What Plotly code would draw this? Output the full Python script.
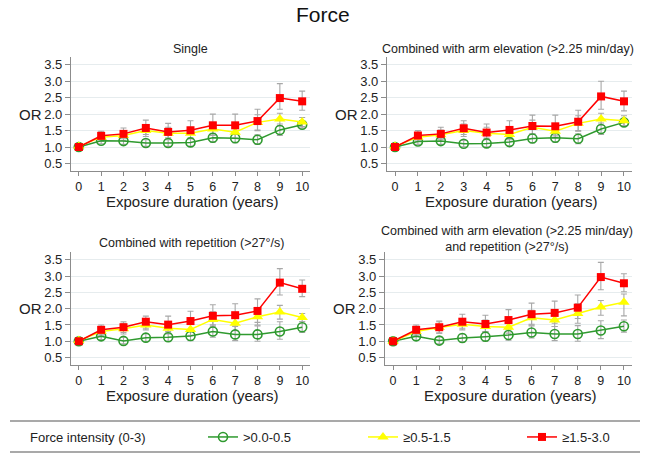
import plotly.graph_objects as go

years = list(range(11))
x_ticks = [str(v) for v in years]
y_ticks = [0.5, 1.0, 1.5, 2.0, 2.5, 3.0, 3.5]
y_tick_labels = ["0.5", "1.0", "1.5", "2.0", "2.5", "3.0", "3.5"]

panel_titles = [
    "Single",
    "Combined with arm elevation (>2.25 min/day)",
    "Combined with repetition (>27°/s)",
    "Combined with arm elevation (>2.25 min/day)<br>and repetition (>27°/s)",
]
series_names = [">0.0-0.5", "≥0.5-1.5", "≥1.5-3.0"]
legend_title = "Force intensity (0-3)"

# Panel 1: Single
p1_low = [1.00, 1.19, 1.18, 1.12, 1.12, 1.14, 1.28, 1.27, 1.22, 1.52, 1.68]
p1_low_lo = [1.00, 1.10, 1.08, 1.02, 1.02, 1.03, 1.15, 1.13, 1.08, 1.35, 1.58]
p1_low_hi = [1.00, 1.29, 1.28, 1.22, 1.22, 1.25, 1.42, 1.41, 1.37, 1.70, 1.78]
p1_mid = [1.02, 1.30, 1.35, 1.50, 1.42, 1.42, 1.55, 1.45, 1.75, 1.85, 1.76]
p1_mid_lo = [1.02, 1.18, 1.20, 1.32, 1.25, 1.25, 1.35, 1.27, 1.52, 1.65, 1.62]
p1_mid_hi = [1.02, 1.42, 1.50, 1.68, 1.60, 1.60, 1.75, 1.65, 1.98, 2.03, 1.90]
p1_high = [1.00, 1.34, 1.40, 1.58, 1.46, 1.51, 1.66, 1.66, 1.79, 2.49, 2.39]
p1_high_lo = [1.00, 1.22, 1.25, 1.38, 1.28, 1.28, 1.40, 1.40, 1.50, 2.15, 2.12]
p1_high_hi = [1.00, 1.48, 1.58, 1.82, 1.72, 1.80, 2.00, 2.00, 2.15, 2.93, 2.70]

# Panel 2: Combined with arm elevation
p2_low = [1.00, 1.17, 1.18, 1.10, 1.11, 1.15, 1.26, 1.28, 1.25, 1.55, 1.75]
p2_low_lo = [1.00, 1.08, 1.08, 1.01, 1.01, 1.04, 1.13, 1.15, 1.10, 1.38, 1.65]
p2_low_hi = [1.00, 1.27, 1.29, 1.20, 1.22, 1.27, 1.40, 1.42, 1.40, 1.73, 1.85]
p2_mid = [1.02, 1.30, 1.37, 1.50, 1.42, 1.38, 1.60, 1.48, 1.72, 1.85, 1.80]
p2_mid_lo = [1.02, 1.18, 1.22, 1.32, 1.25, 1.22, 1.40, 1.30, 1.50, 1.67, 1.65]
p2_mid_hi = [1.02, 1.43, 1.52, 1.70, 1.60, 1.57, 1.82, 1.68, 1.95, 2.03, 1.95]
p2_high = [1.00, 1.35, 1.40, 1.57, 1.44, 1.52, 1.64, 1.63, 1.77, 2.54, 2.39]
p2_high_lo = [1.00, 1.22, 1.25, 1.38, 1.27, 1.28, 1.38, 1.36, 1.48, 2.15, 2.10]
p2_high_hi = [1.00, 1.50, 1.60, 1.80, 1.70, 1.80, 1.97, 1.97, 2.12, 3.00, 2.70]

# Panel 3: Combined with repetition
p3_low = [1.00, 1.15, 1.01, 1.11, 1.12, 1.16, 1.30, 1.21, 1.21, 1.30, 1.43]
p3_low_lo = [1.00, 1.05, 0.92, 1.00, 1.00, 1.02, 1.12, 1.02, 1.00, 1.06, 1.27]
p3_low_hi = [1.00, 1.27, 1.12, 1.23, 1.26, 1.32, 1.50, 1.45, 1.47, 1.60, 1.60]
p3_mid = [1.02, 1.30, 1.38, 1.50, 1.40, 1.36, 1.67, 1.55, 1.75, 1.90, 1.73]
p3_mid_lo = [1.02, 1.17, 1.22, 1.35, 1.22, 1.18, 1.45, 1.32, 1.50, 1.68, 1.60]
p3_mid_hi = [1.02, 1.45, 1.55, 1.67, 1.60, 1.55, 1.90, 1.80, 2.00, 2.10, 1.85]
p3_high = [1.00, 1.35, 1.43, 1.60, 1.51, 1.62, 1.78, 1.80, 1.93, 2.80, 2.61]
p3_high_lo = [1.00, 1.20, 1.27, 1.40, 1.30, 1.35, 1.50, 1.50, 1.58, 2.42, 2.37]
p3_high_hi = [1.00, 1.50, 1.60, 1.77, 1.77, 1.92, 2.12, 2.15, 2.30, 3.23, 2.88]

# Panel 4: Combined with arm elevation and repetition
p4_low = [1.00, 1.15, 1.02, 1.10, 1.14, 1.19, 1.27, 1.22, 1.22, 1.33, 1.46]
p4_low_lo = [1.00, 1.03, 0.92, 0.98, 1.00, 1.03, 1.10, 1.02, 1.00, 1.08, 1.28]
p4_low_hi = [1.00, 1.27, 1.13, 1.22, 1.28, 1.35, 1.47, 1.45, 1.48, 1.63, 1.65]
p4_mid = [1.00, 1.30, 1.42, 1.52, 1.45, 1.43, 1.72, 1.65, 1.85, 2.05, 2.20]
p4_mid_lo = [1.00, 1.17, 1.25, 1.35, 1.28, 1.25, 1.50, 1.45, 1.55, 1.80, 1.78]
p4_mid_hi = [1.00, 1.45, 1.60, 1.70, 1.65, 1.65, 1.95, 1.90, 2.15, 2.25, 2.45]
p4_high = [1.00, 1.35, 1.43, 1.60, 1.53, 1.65, 1.83, 1.87, 2.03, 2.97, 2.78]
p4_high_lo = [1.00, 1.20, 1.25, 1.40, 1.30, 1.40, 1.52, 1.55, 1.70, 2.58, 2.52]
p4_high_hi = [1.00, 1.50, 1.62, 1.83, 1.80, 1.97, 2.17, 2.23, 2.42, 3.42, 3.07]

panels = [
    [(p1_low, p1_low_lo, p1_low_hi), (p1_mid, p1_mid_lo, p1_mid_hi), (p1_high, p1_high_lo, p1_high_hi)],
    [(p2_low, p2_low_lo, p2_low_hi), (p2_mid, p2_mid_lo, p2_mid_hi), (p2_high, p2_high_lo, p2_high_hi)],
    [(p3_low, p3_low_lo, p3_low_hi), (p3_mid, p3_mid_lo, p3_mid_hi), (p3_high, p3_high_lo, p3_high_hi)],
    [(p4_low, p4_low_lo, p4_low_hi), (p4_mid, p4_mid_lo, p4_mid_hi), (p4_high, p4_high_lo, p4_high_hi)],
]

W, H = 645, 455
FONT = "Arial, Liberation Sans, sans-serif"
colors = ["#2f9a2f", "#ffff00", "#ff0000"]
markers = [
    dict(symbol="circle-open", size=9, color="#2f9a2f", line=dict(width=1.6, color="#2f9a2f")),
    dict(symbol="triangle-up", size=10, color="#ffff00", line=dict(width=0)),
    dict(symbol="square", size=8, color="#ff0000", line=dict(width=0)),
]
legend_ids = ["legend", "legend2", "legend3"]
legend_marker_px = [223, 383, 542]

# pixel layout of each panel: (left, right, top, bottom)
px_boxes = [(71, 310, 57, 171), (387, 632, 57, 171), (71, 310, 252, 365), (385, 632, 252, 365)]

fig = go.Figure()
for i, series in enumerate(panels):
    ax = "" if i == 0 else str(i + 1)
    xref, yref = "x" + ax, "y" + ax
    for j, (vals, lo, hi) in enumerate(series):
        fig.add_trace(go.Scatter(
            x=years, y=vals, mode="markers", xaxis=xref, yaxis=yref,
            marker=dict(size=1, opacity=0), showlegend=False, hoverinfo="skip",
            error_y=dict(type="data", symmetric=False,
                         array=[h - v for h, v in zip(hi, vals)],
                         arrayminus=[v - l for v, l in zip(vals, lo)],
                         color="#a8a8a8", thickness=1.1, width=3),
        ))
    for j, (vals, lo, hi) in enumerate(series):
        fig.add_trace(go.Scatter(
            x=years, y=vals, mode="lines+markers", xaxis=xref, yaxis=yref,
            name=series_names[j], legendgroup=series_names[j], showlegend=(i == 0),
            legend=legend_ids[j],
            line=dict(color=colors[j], width=1.5), marker=markers[j],
        ))

annotations = []
for i, (l, r, t, b) in enumerate(px_boxes):
    ax = "" if i == 0 else str(i + 1)
    dom_x = [l / W, r / W]
    dom_y = [1 - b / H, 1 - t / H]
    fig.layout["xaxis" + ax] = dict(
        domain=dom_x, range=[-0.35, 10.35], tickmode="array", tickvals=years, ticktext=x_ticks,
        showgrid=False, zeroline=False, showline=True, linecolor="#8c8c8c", linewidth=1.3,
        ticks="outside", ticklen=4, tickcolor="#8c8c8c", tickfont=dict(size=12.5, color="#222"),
        anchor="y" + ax, fixedrange=True,
    )
    fig.layout["yaxis" + ax] = dict(
        domain=dom_y, range=[0.27, 3.74], tickmode="array", tickvals=y_ticks, ticktext=y_tick_labels,
        showgrid=True, gridcolor="#e6ecee", gridwidth=1, zeroline=False, showline=True,
        linecolor="#8c8c8c", linewidth=1.3, ticks="outside", ticklen=5, tickcolor="#8c8c8c",
        tickfont=dict(size=13, color="#222"), anchor="x" + ax, fixedrange=True,
    )
    annotations.append(dict(text="Exposure duration (years)", x=(l + 3 + r) / 2 / W, y=1 - (b + 30.5) / H,
                            xref="paper", yref="paper", showarrow=False, xanchor="center", yanchor="middle",
                            font=dict(size=15, color="#222", family=FONT)))
    annotations.append(dict(text="OR", x=(l - 41) / W, y=1 - (t + b) / 2 / H, xref="paper", yref="paper",
                            showarrow=False, xanchor="center", yanchor="middle",
                            font=dict(size=15, color="#222", family=FONT)))

title_pos = [(190, 49), (508, 49), (191, 243), (507, 239)]
for i, (tx, ty) in enumerate(title_pos):
    annotations.append(dict(text=panel_titles[i], x=tx / W, y=1 - ty / H, xref="paper", yref="paper",
                            showarrow=False, xanchor="center", yanchor="middle",
                            font=dict(size=12.5, color="#222", family=FONT)))

annotations.append(dict(text="Force", x=0.5, y=1 - 14 / H, xref="paper", yref="paper", showarrow=False,
                        xanchor="center", yanchor="middle", font=dict(size=21, color="#111", family=FONT)))
annotations.append(dict(text=legend_title, x=28 / W, y=1 - 437 / H, xref="paper", yref="paper",
                        showarrow=False, xanchor="left", yanchor="middle",
                        font=dict(size=13, color="#222", family=FONT)))

shapes = [
    dict(type="line", xref="paper", yref="paper", x0=10 / W, x1=640 / W, y0=1 - 421 / H, y1=1 - 421 / H,
         line=dict(color="#8c8c8c", width=1.5)),
    dict(type="line", xref="paper", yref="paper", x0=10 / W, x1=640 / W, y0=1 - 452 / H, y1=1 - 452 / H,
         line=dict(color="#8c8c8c", width=1.5)),
]

fig.update_layout(
    width=W, height=H, margin=dict(l=0, r=0, t=0, b=0),
    paper_bgcolor="white", plot_bgcolor="white",
    font=dict(family=FONT, color="#222"),
    annotations=annotations, shapes=shapes,
    showlegend=True,
)
for lid, mpx in zip(legend_ids, legend_marker_px):
    fig.layout[lid] = dict(orientation="h", x=(mpx - 20) / W, xanchor="left", y=1 - 437 / H, yanchor="middle",
                           font=dict(size=13), bgcolor="rgba(0,0,0,0)",
                           itemclick=False, itemdoubleclick=False)

fig.write_html("out.html", config={"displayModeBar": False},
               post_script="document.body.style.margin='0';document.body.style.overflow='hidden';")
